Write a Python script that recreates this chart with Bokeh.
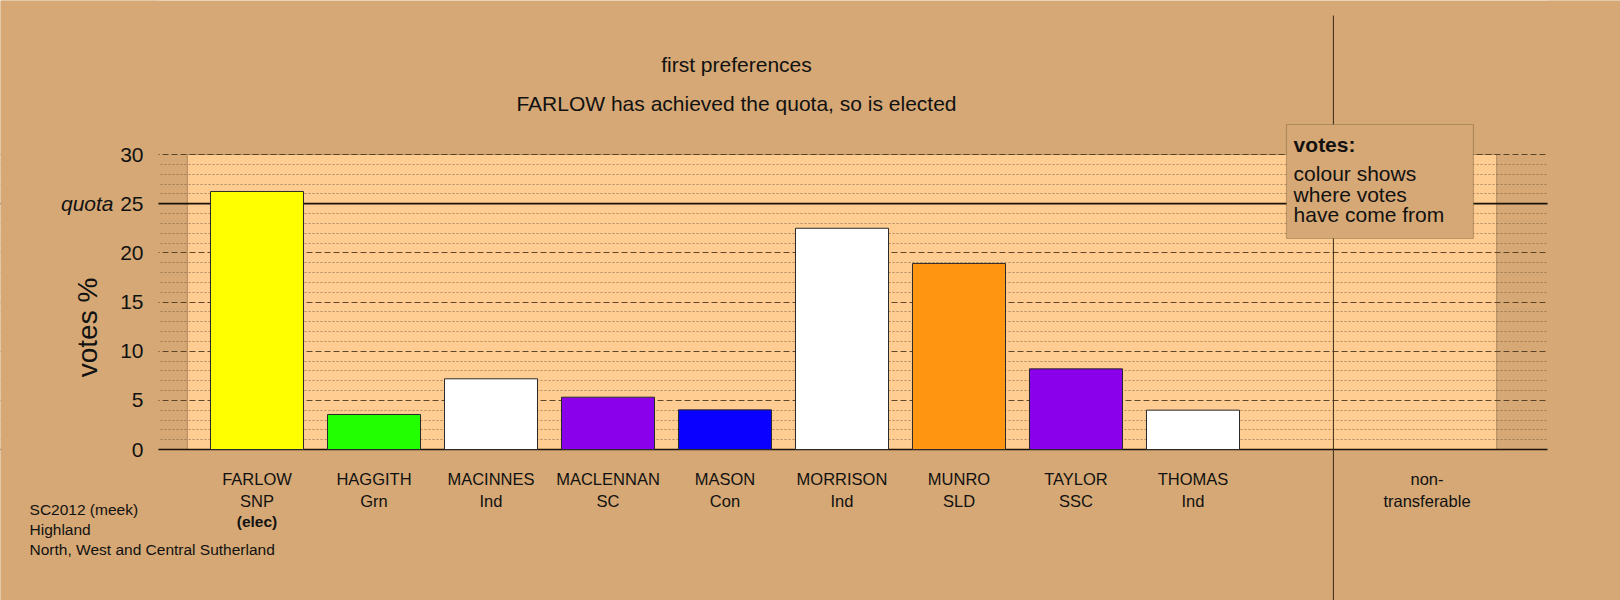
import math
from bokeh.plotting import figure
from bokeh.models import (Range1d, FixedTicker, Span, BoxAnnotation, Label,
                          ColumnDataSource, Grid)
from bokeh.core.properties import value
from bokeh.embed import file_html
from bokeh.resources import INLINE

# ---------------- data ----------------
names = ["FARLOW", "HAGGITH", "MACINNES", "MACLENNAN", "MASON",
         "MORRISON", "MUNRO", "TAYLOR", "THOMAS"]
parties = ["SNP", "Grn", "Ind", "SC", "Con", "Ind", "SLD", "SSC", "Ind"]
status = ["(elec)", "", "", "", "", "", "", "", ""]
votes = [26.24, 3.56, 7.19, 5.32, 4.03, 22.5, 18.92, 8.2, 4.0]
bar_colors = ["#FFFF00", "#22FF00", "#FFFFFF", "#8A00EA", "#0A00FF",
              "#FFFFFF", "#FF9510", "#8A00EA", "#FFFFFF"]
nontransferable_label = ["non-", "transferable"]
nontransferable_votes = 0.0
quota = 25
y_ticks = [0, 5, 10, 15, 20, 25, 30]
y_tick_labels = [str(t) for t in y_ticks]
y_minor = [v for v in range(0, 31) if v % 5]

title_lines = ["first preferences", "FARLOW has achieved the quota, so is elected"]
footnote = ["SC2012 (meek)", "Highland", "North, West and Central Sutherland"]
legend_title = "votes:"
legend_lines = ["colour shows", "where votes", "have come from"]

# ---------------- style / layout ----------------
BG = "#D5A875"
PANEL = "#FFCC92"
FONT = "Liberation Sans"
INK = "#111111"
GRID_X = (-0.842, 11.03)       # horizontal extent of the grid lines
PANEL_X = (-0.595, 10.595)     # extent of the light panel

xs = list(range(len(names)))
nt_x = len(names) + 1          # non-transferable slot

p = figure(width=1620, height=600,
           x_range=Range1d(-2.19231, 11.65385), y_range=Range1d(-15.3559, 45.6612),
           output_backend="svg", toolbar_location=None,
           x_axis_type=None, y_axis_type=None,
           min_border=0, min_border_left=0, min_border_right=0,
           min_border_top=0, min_border_bottom=0,
           background_fill_color=BG, border_fill_color=BG,
           outline_line_color=None)

# light panel
p.add_layout(BoxAnnotation(left=PANEL_X[0], right=PANEL_X[1], bottom=0, top=30,
                           fill_color=PANEL, fill_alpha=1.0,
                           line_color="#2A1E10", line_width=1, level="image"))

# horizontal grid
ticker = FixedTicker(ticks=y_ticks, minor_ticks=y_minor)
grid = Grid(dimension=1, ticker=ticker,
            grid_line_color="#4E3A20", grid_line_dash="6 3", grid_line_width=1,
            grid_line_alpha=0.9,
            minor_grid_line_color="#6E5636", minor_grid_line_dash="2 2",
            minor_grid_line_width=1, minor_grid_line_alpha=0.55)
p.add_layout(grid)

# quota and baseline
p.add_layout(Span(location=quota, dimension="width", line_color="#1A1208",
                  line_width=1.6, level="underlay"))
p.add_layout(Span(location=0, dimension="width", line_color="#1A1208",
                  line_width=1.6, level="underlay"))

# limit the grid lines to their horizontal extent
p.add_layout(BoxAnnotation(right=GRID_X[0], fill_color=BG, fill_alpha=1.0,
                           line_color=None, level="underlay"))
p.add_layout(BoxAnnotation(left=GRID_X[1], fill_color=BG, fill_alpha=1.0,
                           line_color=None, level="underlay"))

# y tick labels
p.text(x=-0.970, y=y_ticks, text=y_tick_labels, text_align="right",
       text_baseline="middle", text_font=value(FONT), text_font_size="21px",
       text_color=INK)

# bars
src = ColumnDataSource(dict(x=xs, top=votes, color=bar_colors,
                            name=names, party=parties, status=status))
p.vbar(x="x", top="top", bottom=0, width=0.795, fill_color="color",
       line_color="#2A2A2A", line_width=1, source=src)

# category labels
p.text(x="x", y=-3.05, text="name", source=src, text_align="center",
       text_baseline="middle", text_font=value(FONT),
       text_font_size="16.5px", text_color=INK)
p.text(x="x", y=-5.19, text="party", source=src, text_align="center",
       text_baseline="middle", text_font=value(FONT),
       text_font_size="16.5px", text_color=INK)
p.text(x="x", y=-7.3, text="status", source=src, text_align="center",
       text_baseline="middle", text_font=value(FONT), text_font_style="bold",
       text_font_size="15.5px", text_color=INK)
p.text(x=[nt_x, nt_x], y=[-3.05, -5.19], text=nontransferable_label,
       text_align="center", text_baseline="middle", text_font=value(FONT),
       text_font_size="16.5px", text_color=INK)

# vertical divider before non-transferable
p.segment(x0=[9.2], y0=[44.136], x1=[9.2], y1=[-15.4],
          line_color="#3A2A18", line_width=1)

# legend box
p.add_layout(BoxAnnotation(left=8.799, right=10.397, bottom=21.46, top=33.05,
                           fill_color=BG, fill_alpha=1.0,
                           line_color="#5A4428", line_width=1.2))
p.add_layout(Label(x=8.86, y=31.05, text=legend_title, text_font=FONT,
                   text_font_style="bold", text_font_size="21px",
                   text_baseline="middle", text_align="left", text_color=INK))
for t, yy in zip(legend_lines, [28.05, 25.95, 23.85]):
    p.add_layout(Label(x=8.86, y=yy, text=t, text_font=FONT,
                       text_font_size="21px", text_baseline="middle",
                       text_align="left", text_color=INK))

# titles
for t, yy in zip(title_lines, [39.15, 35.16]):
    p.add_layout(Label(x=4.098, y=yy, text=t, text_font=FONT,
                       text_font_size="21px", text_baseline="middle",
                       text_align="center", text_color=INK))

# quota label and axis title
p.add_layout(Label(x=-1.2265, y=quota, text="quota", text_font=FONT,
                   text_font_style="italic", text_font_size="21px",
                   text_baseline="middle", text_align="right", text_color=INK))
p.add_layout(Label(x=-1.449, y=12.41, text="votes %", text_font=FONT,
                   text_font_size="28px", angle=math.pi / 2,
                   text_baseline="middle", text_align="center", text_color=INK))

# footnote
for t, yy in zip(footnote, [-6.10, -8.14, -10.17]):
    p.add_layout(Label(x=-1.944, y=yy, text=t, text_font=FONT,
                       text_font_size="15.5px", text_baseline="middle",
                       text_align="left", text_color=INK))

open("out.html", "w").write(file_html(p, INLINE))
